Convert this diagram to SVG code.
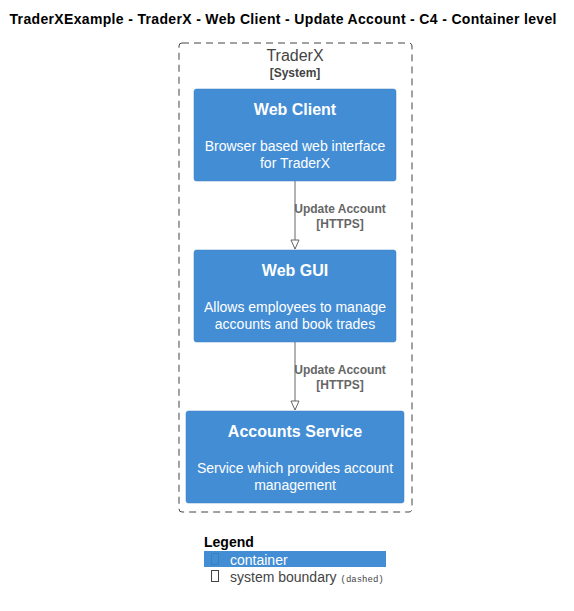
<svg xmlns="http://www.w3.org/2000/svg" width="574" height="611" viewBox="0 0 574 611">
<style>
text{font-family:"Liberation Sans",Arial,sans-serif}
.title{font-size:14px;font-weight:bold;fill:#000}
.bnd{fill:none;stroke:#444;stroke-width:1;stroke-dasharray:7,5}
.bt{font-size:16px;fill:#444}
.bs{font-size:12px;font-weight:bold;fill:#444}
.box{fill:#438DD5;stroke:#3C7FC0;stroke-width:0.5}
.nt{font-size:16px;font-weight:bold;fill:#fff}
.nd{font-size:14px;fill:#fff}
.el{font-size:12px;font-weight:bold;fill:#666}
.edge{stroke:#666;stroke-width:1;fill:none}
.lg{font-size:14px;fill:#444}
</style>
<defs>
<marker id="arr" markerWidth="11" markerHeight="10" refX="10" refY="5" orient="auto" markerUnits="userSpaceOnUse" viewBox="0 0 11 10">
<path d="M1,1 L10,5 L1,9 Z" fill="#fff" stroke="#666" stroke-width="1"/>
</marker>
</defs>
<rect width="574" height="611" fill="#fff"/>
<text class="title" x="283" y="24" text-anchor="middle" textLength="547" lengthAdjust="spacing">TraderXExample - TraderX - Web Client - Update Account - C4 - Container level</text>
<g id="boundary-traderx">
<rect class="bnd" x="179" y="43" width="233" height="469" rx="3"/>
<text class="bt" x="295" y="61" text-anchor="middle">TraderX</text>
<text class="bs" x="295" y="77" text-anchor="middle">[System]</text>
</g>
<g id="connectors">
<line class="edge" x1="295" y1="181" x2="295" y2="249" marker-end="url(#arr)"/>
<text class="el" x="340" y="213" text-anchor="middle">Update Account</text>
<text class="el" x="340" y="228" text-anchor="middle">[HTTPS]</text>
<line class="edge" x1="295" y1="342" x2="295" y2="410" marker-end="url(#arr)"/>
<text class="el" x="340" y="374" text-anchor="middle">Update Account</text>
<text class="el" x="340" y="389" text-anchor="middle">[HTTPS]</text>
</g>
<g id="web-client">
<rect class="box" x="194" y="89" width="202" height="92" rx="2.5"/>
<text class="nt" x="295" y="115" text-anchor="middle">Web Client</text>
<text class="nd" x="295" y="151" text-anchor="middle">Browser based web interface</text>
<text class="nd" x="295" y="168" text-anchor="middle">for TraderX</text>
</g>
<g id="web-gui">
<rect class="box" x="194" y="250" width="202" height="92" rx="2.5"/>
<text class="nt" x="295" y="276" text-anchor="middle">Web GUI</text>
<text class="nd" x="295" y="312" text-anchor="middle">Allows employees to manage</text>
<text class="nd" x="295" y="329" text-anchor="middle">accounts and book trades</text>
</g>
<g id="accounts-service">
<rect class="box" x="186" y="411" width="218" height="92" rx="2.5"/>
<text class="nt" x="295" y="437" text-anchor="middle">Accounts Service</text>
<text class="nd" x="295" y="473" text-anchor="middle">Service which provides account</text>
<text class="nd" x="295" y="490" text-anchor="middle">management</text>
</g>
<g id="legend">
<text x="204" y="547" style="font-size:14px;font-weight:bold;fill:#000">Legend</text>
<rect x="204" y="551" width="182" height="16" fill="#438DD5"/>
<rect x="211.5" y="553.5" width="7" height="11" fill="none" stroke="#3C7FC0" stroke-width="1"/>
<text x="230" y="565" style="font-size:14px;fill:#fff">container</text>
<rect x="211.5" y="570.5" width="7" height="11" fill="none" stroke="#444" stroke-width="1"/>
<text x="230" y="582" class="lg">system boundary <tspan style="font-family:'Liberation Mono',monospace;font-size:9px">(dashed)</tspan></text>
</g>
</svg>
